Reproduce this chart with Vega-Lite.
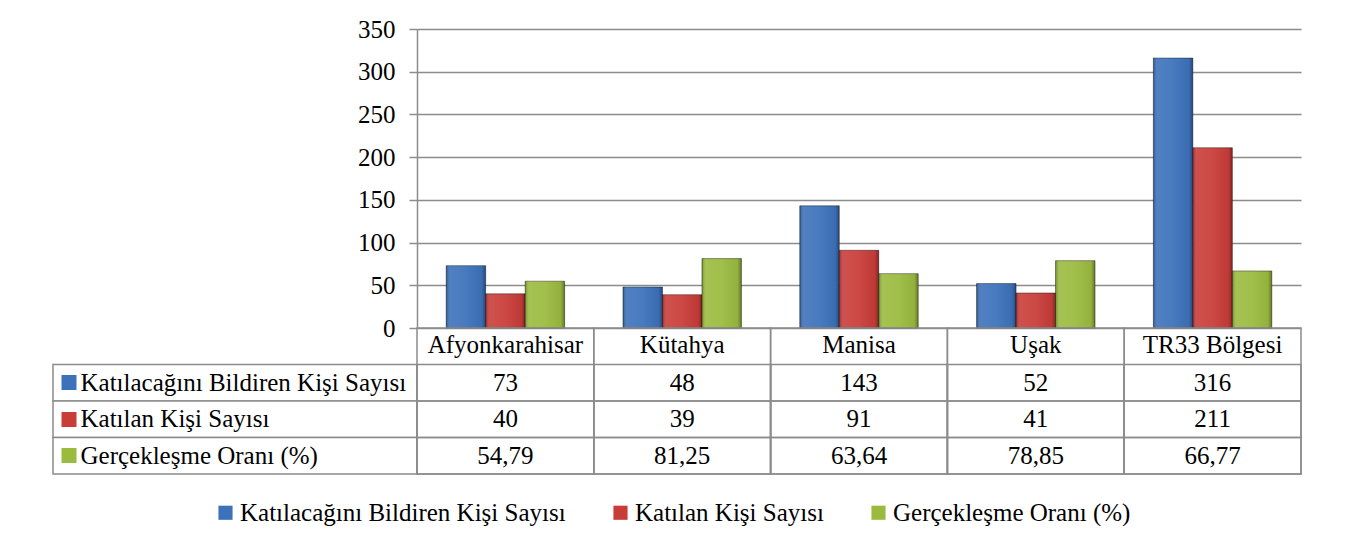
{
  "$schema": "https://vega.github.io/schema/vega-lite/v6.json",
  "padding": {"left": 52, "top": 17, "right": 0, "bottom": 0},
  "background": "white",
  "bounds": "flush",
  "align": "each",
  "spacing": 0,
  "columns": 2,
  "config": {
    "font": "Liberation Serif",
    "view": {"stroke": null},
    "axis": {"labelFont": "Liberation Serif"},
    "legend": {"labelFont": "Liberation Serif"},
    "text": {"font": "Liberation Serif"}
  },
  "data": {"values": [
    {"region": "Afyonkarahisar", "series": "Katılacağını Bildiren Kişi Sayısı", "value": 73},
    {"region": "Afyonkarahisar", "series": "Katılan Kişi Sayısı", "value": 40},
    {"region": "Afyonkarahisar", "series": "Gerçekleşme Oranı (%)", "value": 54.79},
    {"region": "Kütahya", "series": "Katılacağını Bildiren Kişi Sayısı", "value": 48},
    {"region": "Kütahya", "series": "Katılan Kişi Sayısı", "value": 39},
    {"region": "Kütahya", "series": "Gerçekleşme Oranı (%)", "value": 81.25},
    {"region": "Manisa", "series": "Katılacağını Bildiren Kişi Sayısı", "value": 143},
    {"region": "Manisa", "series": "Katılan Kişi Sayısı", "value": 91},
    {"region": "Manisa", "series": "Gerçekleşme Oranı (%)", "value": 63.64},
    {"region": "Uşak", "series": "Katılacağını Bildiren Kişi Sayısı", "value": 52},
    {"region": "Uşak", "series": "Katılan Kişi Sayısı", "value": 41},
    {"region": "Uşak", "series": "Gerçekleşme Oranı (%)", "value": 78.85},
    {"region": "TR33 Bölgesi", "series": "Katılacağını Bildiren Kişi Sayısı", "value": 316},
    {"region": "TR33 Bölgesi", "series": "Katılan Kişi Sayısı", "value": 211},
    {"region": "TR33 Bölgesi", "series": "Gerçekleşme Oranı (%)", "value": 66.77}
  ]},
  "concat": [
    {
      "width": 364, "height": 299,
      "transform": [{"filter": "datum.region === 'Afyonkarahisar'"}],
      "mark": {"type": "rect", "opacity": 0},
      "encoding": {"opacity": {"value": 0}}
    },
    {
      "width": 884, "height": 299,
      "encoding": {
        "x": {"field": "region", "type": "nominal", "sort": ["Afyonkarahisar", "Kütahya", "Manisa", "Uşak", "TR33 Bölgesi"], "scale": {"paddingInner": 0.33, "paddingOuter": 0.165},
          "axis": {"orient": "bottom", "title": null, "domain": false, "ticks": false, "labelAngle": 0, "labelFont": "Liberation Serif", "labelFontSize": 25, "labelColor": "#000000", "labelBaseline": "middle", "labelPadding": 16, "labelLimit": 0}},
        "xOffset": {"field": "series", "type": "nominal", "sort": ["Katılacağını Bildiren Kişi Sayısı", "Katılan Kişi Sayısı", "Gerçekleşme Oranı (%)"]},
        "y": {"field": "value", "type": "quantitative", "scale": {"domain": [0, 350], "nice": false},
          "axis": {"title": null, "values": [0, 50, 100, 150, 200, 250, 300, 350], "grid": true, "gridColor": "#8c8c8c", "gridWidth": 1.5, "domainColor": "#8c8c8c", "domainWidth": 1.5, "tickColor": "#8c8c8c", "tickWidth": 1.5, "tickSize": 8, "labelFont": "Liberation Serif", "labelFontSize": 25, "labelColor": "#000000", "labelPadding": 14, "format": "d"}}
      },
      "layer": [
        {
          "mark": {"type": "bar", "strokeWidth": 1, "stroke": "#000000", "strokeOpacity": 0.4},
          "encoding": {
            "color": {"field": "series", "type": "nominal",
              "scale": {"domain": ["Katılacağını Bildiren Kişi Sayısı", "Katılan Kişi Sayısı", "Gerçekleşme Oranı (%)"], "range": ["#3d72bb", "#c93d39", "#9bbb3f"]},
              "legend": {"orient": "none", "legendX": 160, "legendY": 471, "direction": "horizontal", "title": null, "symbolType": "square", "symbolSize": 200, "symbolStrokeWidth": 0, "labelFont": "Liberation Serif", "labelFontSize": 25, "labelColor": "#000000", "labelLimit": 0, "labelOffset": 2, "columnPadding": 42}}
          }
        },
        {
          "mark": {"type": "bar", "fill": {"gradient": "linear", "x1": 0, "x2": 1, "y1": 0, "y2": 0, "stops": [
            {"offset": 0, "color": "rgba(0,0,0,0.28)"},
            {"offset": 0.1, "color": "rgba(255,255,255,0.10)"},
            {"offset": 0.5, "color": "rgba(255,255,255,0.06)"},
            {"offset": 0.9, "color": "rgba(0,0,0,0.05)"},
            {"offset": 1, "color": "rgba(0,0,0,0.35)"}
          ]}}
        }
      ]
    },
    {
      "width": 364, "height": 146,
      "transform": [{"filter": "datum.region === 'Afyonkarahisar'"}],
      "mark": {"type": "rect", "fill": "white", "stroke": "#8c8c8c", "strokeWidth": 1.5},
      "encoding": {
        "y": {"field": "series", "type": "nominal",
          "scale": {"domain": [" ", "Katılacağını Bildiren Kişi Sayısı", "Katılan Kişi Sayısı", "Gerçekleşme Oranı (%)"], "paddingInner": 0, "paddingOuter": 0},
          "axis": {"title": null, "orient": "left", "offset": -23, "domain": false, "values": ["Katılacağını Bildiren Kişi Sayısı", "Katılan Kişi Sayısı", "Gerçekleşme Oranı (%)"],
            "ticks": true, "tickSize": 15, "tickWidth": 15,
            "tickColor": {"condition": [
              {"test": "datum.value === 'Katılacağını Bildiren Kişi Sayısı'", "value": "#3d72bb"},
              {"test": "datum.value === 'Katılan Kişi Sayısı'", "value": "#c93d39"}
            ], "value": "#9bbb3f"},
            "labelAlign": "left", "labelPadding": -19, "labelFont": "Liberation Serif", "labelFontSize": 25, "labelColor": "#000000", "labelLimit": 0}}
      }
    },
    {
      "width": 884, "height": 146,
      "encoding": {
        "x": {"field": "region", "type": "nominal", "sort": ["Afyonkarahisar", "Kütahya", "Manisa", "Uşak", "TR33 Bölgesi"], "scale": {"paddingInner": 0, "paddingOuter": 0}, "axis": null}
      },
      "layer": [
        {
          "transform": [{"filter": "datum.series === 'Katılacağını Bildiren Kişi Sayısı'"}],
          "mark": {"type": "rect", "fillOpacity": 0, "stroke": "#8c8c8c", "strokeWidth": 1.5}
        },
        {
          "mark": {"type": "rect", "fillOpacity": 0, "stroke": "#8c8c8c", "strokeWidth": 1.5},
          "encoding": {
            "y": {"field": "series", "type": "nominal", "scale": {"domain": [" ", "Katılacağını Bildiren Kişi Sayısı", "Katılan Kişi Sayısı", "Gerçekleşme Oranı (%)"], "paddingInner": 0, "paddingOuter": 0}, "axis": null}
          }
        },
        {
          "transform": [{"filter": "datum.series !== 'Gerçekleşme Oranı (%)'"}],
          "mark": {"type": "text", "font": "Liberation Serif", "fontSize": 25, "color": "#000000", "baseline": "middle"},
          "encoding": {
            "y": {"field": "series", "type": "nominal", "axis": null},
            "text": {"field": "value", "type": "quantitative", "format": "d"}
          }
        },
        {
          "transform": [{"filter": "datum.series === 'Gerçekleşme Oranı (%)'"}],
          "mark": {"type": "text", "font": "Liberation Serif", "fontSize": 25, "color": "#000000", "baseline": "middle", "text": {"expr": "replace(format(datum.value, '.2f'), '.', ',')"}},
          "encoding": {
            "y": {"field": "series", "type": "nominal", "axis": null}
          }
        }
      ]
    }
  ]
}
